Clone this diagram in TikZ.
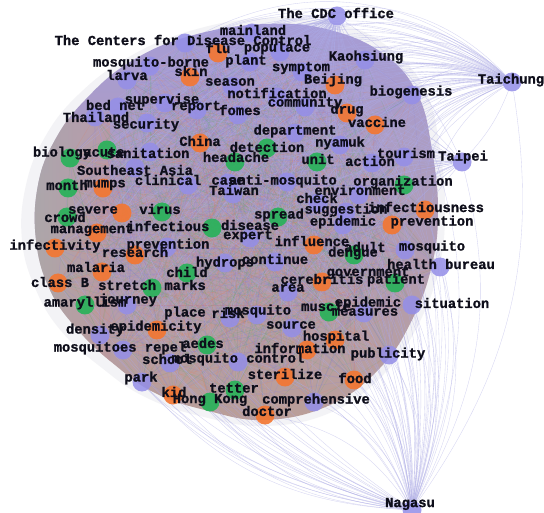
\documentclass[tikz,border=0pt]{standalone}
\usepackage{fontspec}
\newfontfamily\lblfont{Liberation Mono}[BoldFeatures={FakeBold=1.2}]
\pgfdeclarelayer{blobl}
\pgfdeclarelayer{edgel}
\pgfsetlayers{blobl,edgel,main}
\definecolor{pcol}{RGB}{148,142,232}
\definecolor{ocol}{RGB}{244,118,48}
\definecolor{gcol}{RGB}{38,178,88}
\definecolor{fancol}{RGB}{172,170,230}
\definecolor{halo}{RGB}{243,243,246}
\definecolor{blobtop}{RGB}{166,156,214}
\definecolor{blobmid}{RGB}{190,152,158}
\definecolor{blobbot}{RGB}{186,158,152}
\definecolor{blobleft}{RGB}{170,172,165}
\definecolor{e1}{RGB}{225,130,95}
\definecolor{e2}{RGB}{135,128,222}
\definecolor{e3}{RGB}{105,170,120}
\definecolor{txt}{RGB}{14,14,26}
\tikzset{
  vnode/.style={circle, inner sep=0pt, minimum size=19pt, draw=none},
  pv/.style={vnode, fill=pcol, fill opacity=0.85},
  ov/.style={vnode, fill=ocol, fill opacity=0.9},
  gv/.style={vnode, fill=gcol, fill opacity=0.9},
  hv/.style={vnode, minimum size=4pt},
  lab/.style={font=\lblfont\bfseries\fontsize{13.8}{14}\selectfont, text=txt, inner sep=0pt},
  fanedge/.style={draw=fancol, line width=0.35pt, opacity=0.5},
  inedge/.style={line width=0.3pt, opacity=0.3},
}
\begin{document}
\begin{tikzpicture}[x=1pt,y=-1pt]
\useasboundingbox (0,0) rectangle (544,513);
\begin{pgfonlayer}{blobl}
\fill[white] (0,0) rectangle (544,513);
\fill[halo] plot[smooth cycle, tension=0.7] coordinates {(265,18) (340,24) (392,50) (426,92) (440,150) (445,210) (439,268) (418,325) (384,374) (332,412) (265,426) (200,416) (145,397) (102,368) (62,332) (36,290) (22,240) (26,185) (45,137) (78,95) (127,58) (190,31)};
\shade[top color=blobtop, middle color=blobmid, bottom color=blobbot] plot[smooth cycle, tension=0.7] coordinates {(265,24) (330,30) (385,55) (418,95) (432,150) (438,210) (432,265) (412,320) (380,368) (330,405) (265,420) (205,410) (155,393) (115,365) (78,330) (50,290) (36,240) (38,185) (55,140) (85,100) (130,62) (190,36)};
\begin{scope}
\clip plot[smooth cycle, tension=0.7] coordinates {(265,24) (330,30) (385,55) (418,95) (432,150) (438,210) (432,265) (412,320) (380,368) (330,405) (265,420) (205,410) (155,393) (115,365) (78,330) (50,290) (36,240) (38,185) (55,140) (85,100) (130,62) (190,36)};
\shade[left color=blobleft, right color=blobmid, opacity=0.7] (30,120) rectangle (110,380);
\end{scope}
\end{pgfonlayer}
% outlier nodes
\node[pv] (cdc) at (337,16) {};
\node[pv] (taichung) at (512,82) {};
\node[pv] (taipei) at (462,162) {};
\node[pv] (nagasu) at (412,510) {};
% blob nodes
\foreach \n/\x/\y/\c [count=\k] in {
centers/185/43/pv, mainland/252/33/pv, flu/218/53/ov, populace/280/52/pv, plant/250/62/pv,
borne/150/66/pv, larva/127/80/pv, skin/190/77/ov, season/232/86/pv, symptom/302/72/pv,
kaohsiung/365/60/pv, beijing/335/85/ov, notification/277/97/pv, biogenesis/412/95/pv, bednet/118/107/pv,
supervise/165/103/pv, report/197/110/pv, fomes/238/115/pv, community/305/107/pv, drug/347/113/ov,
vaccine/375/125/ov, thailand/95/117/pv, security/147/123/pv, department/295/133/pv, china/200/143/ov,
nyamuk/340/145/pv, biology/70/158/gv, acute/107/150/gv, sanitation/150/152/pv, detection/267/148/gv,
headache/235/162/gv, unit/317/162/gv, action/372/163/pv, tourism/404/157/pv, seasia/135/168/pv,
clinical/188/185/pv, case/228/183/pv, anti/287/182/pv, organization/404/185/gv, taiwan/233/194/pv,
month/68/188/gv, mumps/103/188/ov, environment/359/195/pv, check/318/203/pv, infectiousness/425/210/ov,
suggestion/346/212/pv, severe/122/213/ov, virus/162/212/gv, spread/278/217/gv, crowd/67/217/gv,
epidemicR/343/225/pv, preventionR/392/225/ov, management/97/233/ov, infectious/212/228/gv, disease/262/226/hv,
expert/250/238/pv, influence/314/245/ov, adult/365/248/hv, dengue/354/255/gv, mosquitoR/405/250/pv,
infectivity/55/248/ov, preventionL/167/247/pv, research/135/255/ov, continue/275/262/pv, hydrops/225/263/pv,
healthbureau/440/267/pv, malaria/102/272/ov, child/187/273/gv, government/368/275/hv, cerebritis/322/282/ov,
patient/395/283/gv, classb/58/283/ov, stretch/152/288/gv, area/288/292/pv, amaryllism/85/305/gv,
journey/127/305/pv, muscle/329/312/gv, epidemicM/370/305/hv, measures/364/313/pv, situation/412/305/pv,
place/185/316/hv, risk/230/318/pv, mosquitoC/257/315/pv, density/100/335/pv, epidemicity/157/330/ov,
source/292/328/pv, hospital/335/340/ov, repel/123/350/pv, aedes/207/345/gv, information/307/350/ov,
publicity/389/355/pv, school/170/363/pv, mcontrol/238/362/pv, sterilize/285/377/ov, park/142/382/pv,
food/354/380/ov, tetter/235/390/gv, kid/173/395/ov, hongkong/210/402/gv, comprehensive/314/402/pv,
doctor/265/415/ov}
{ \node[\c, alias=v\k] (\n) at (\x,\y) {}; \xdef\nblob{\k} }
% labels
\foreach \n/\x/\y/\t in {
cdc/336/13/The CDC office, centers/183/40/The Centers for Disease Control, mainland/253/30/mainland,
flu/218/48/flu, populace/277/48/populace, plant/246/61/plant, borne/151/63/mosquito-borne,
larva/127/75/larva, skin/191/71/skin, season/230/82/season, symptom/301/68/symptom,
kaohsiung/366/57/Kaohsiung, beijing/333/80/Beijing, notification/277/93/notification,
biogenesis/411/92/biogenesis, taichung/511/80/Taichung, bednet/115/105/bed net,
supervise/162/100/supervise, report/196/107/report, fomes/240/110/fomes, community/305/103/community,
drug/347/110/drug, vaccine/377/122/vaccine, thailand/96/117/Thailand, security/146/125/security,
department/295/131/department, china/200/141/China, nyamuk/340/143/nyamuk, biology/62/153/biology,
acute/104/152/acute, sanitation/148/153/sanitation, detection/267/147/detection, headache/236/157/headache,
unit/318/159/unit, action/370/161/action, tourism/406/153/tourism, taipei/463/157/Taipei,
seasia/135/170/Southeast Asia, clinical/168/180/clinical, case/228/181/case, anti/283/181/anti-mosquito,
organization/403/182/organization, taiwan/234/190/Taiwan, month/67/185/month, mumps/105/185/mumps,
environment/360/190/environment, check/317/198/check, infectiousness/426/207/infectiousness,
suggestion/346/210/suggestion, severe/93/210/severe, virus/160/209/virus, spread/279/215/spread,
crowd/65/217/crowd, epidemicR/343/222/epidemic, preventionR/432/222/prevention, management/92/230/management,
infectious/168/226/infectious, disease/250/225/disease, expert/248/236/expert, influence/312/241/influence,
adult/365/247/adult, dengue/353/253/dengue, mosquitoR/432/247/mosquito, infectivity/55/246/infectivity,
preventionL/168/245/prevention, research/135/252/research, continue/275/259/continue, hydrops/225/263/hydrops,
healthbureau/441/264/health bureau, malaria/96/267/malaria, child/187/272/child, government/368/273/government,
cerebritis/322/279/cerebritis, patient/396/280/patient, classb/60/282/class B, stretch/152/285/stretch marks,
area/288/288/area, amaryllism/85/303/amaryllism, journey/128/300/journey, muscle/326/306/muscle,
epidemicM/368/303/epidemic, measures/365/312/measures, situation/452/303/situation, place/185/313/place,
risk/228/313/risk, mosquitoC/258/311/mosquito, density/95/330/density, epidemicity/156/327/epidemicity,
source/291/325/source, hospital/336/337/hospital, repel/120/348/mosquitoes repel, aedes/203/343/aedes,
information/300/348/information, publicity/388/354/publicity, school/167/359/school,
mcontrol/238/359/mosquito control, sterilize/285/374/sterilize, park/141/378/park, food/355/378/food,
tetter/234/388/tetter, kid/174/392/kid, hongkong/210/400/Hong Kong, comprehensive/316/400/comprehensive,
doctor/267/411/doctor, nagasu/410/504/Nagasu}
{ \node[lab] (l-\n) at (\x,\y) {\t}; }
% edges
\begin{pgfonlayer}{edgel}
\foreach \i in {1,...,\nblob} {
  \foreach \d/\ec in {3/e2,5/e1,9/e3,12/e2,17/e1,23/e3,31/e2,37/e1,48/e2,61/e3} {
    \pgfmathtruncatemacro\j{mod(\i+\d-1,\nblob)+1}
    \draw[inedge, draw=\ec] (v\i) -- (v\j);
  }
}
\foreach \i in {1,...,70,73,76,...,101} { \draw[fanedge] (taichung) to[bend right=36] (v\i); }
\foreach \i in {1,2,...,66,70,74,...,101} { \draw[fanedge] (cdc) to[bend right=12] (v\i); }
\foreach \i in {10,13,...,101} { \draw[fanedge] (taipei) to[bend right=20] (v\i); }
\foreach \t in {classb, infectivity, amaryllism, density, repel, park, kid, hongkong, malaria, crowd, month, biology, management, journey, school, epidemicity, tetter, severe, mumps, acute, research, stretch, thailand, bednet, larva}
  { \draw[fanedge] (nagasu) to[bend left=22] (\t); }
\foreach \t in {publicity, situation, healthbureau, food, comprehensive, hospital, sterilize, doctor, information, measures, muscle, patient, mosquitoR, dengue, influence, cerebritis, area, source, mosquitoC, risk, mcontrol, aedes, continue, hydrops, expert, infectious, spread, preventionR, infectiousness, epidemicR, check, environment, organization, action, tourism, unit, anti, taiwan, case, detection, headache, nyamuk, vaccine, drug, biogenesis, department, community, beijing, kaohsiung, symptom, notification, taipei, taichung, cdc, flu, centers, china, clinical}
  { \draw[fanedge] (nagasu) to[bend right=22] (\t); }
\draw[fanedge] (cdc) to[bend left=20] (taichung);
\draw[fanedge] (cdc) to[bend left=15] (taipei);
\draw[fanedge] (taichung) to[bend left=10] (taipei);
\end{pgfonlayer}
\end{tikzpicture}
\end{document}
